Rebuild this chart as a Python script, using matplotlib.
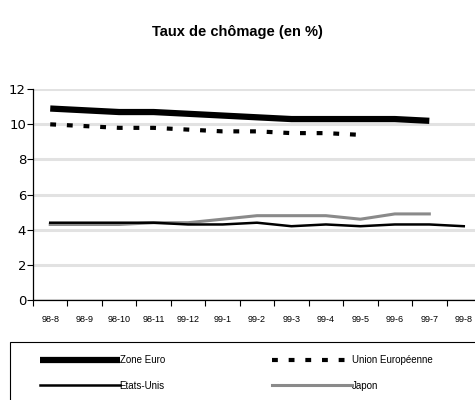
import matplotlib
matplotlib.use('Agg')
import matplotlib.pyplot as plt
from matplotlib.patches import Rectangle
import numpy as np

# Monthly unemployment rates (%)
months = ['98-8', '98-9', '98-10', '98-11', '99-12', '99-1', '99-2',
          '99-3', '99-4', '99-5', '99-6', '99-7', '99-8']
zone_euro = [10.9, 10.8, 10.7, 10.7, 10.6, 10.5, 10.4, 10.3, 10.3, 10.3, 10.3, 10.2]
union_eu = [10.0, 9.9, 9.8, 9.8, 9.7, 9.6, 9.6, 9.5, 9.5, 9.4]
etats_unis = [4.4, 4.4, 4.4, 4.4, 4.3, 4.3, 4.4, 4.2, 4.3, 4.2, 4.3, 4.3, 4.2]
japon = [4.3, 4.3, 4.3, 4.4, 4.4, 4.6, 4.8, 4.8, 4.8, 4.6, 4.9, 4.9]
y_ticks = [0, 2, 4, 6, 8, 10, 12]

narrow = ['Liberation Sans', 'DejaVu Sans']
W, H = 475, 400

fig = plt.figure(figsize=(4.75, 4.0), dpi=100)
ax = fig.add_axes([33/W, 0.25, 448/W, 0.527])

x = np.arange(len(months))
l_euro, = ax.plot(x[:len(zone_euro)], zone_euro, color='black', lw=4.5,
                  solid_capstyle='butt', zorder=4)
l_ue, = ax.plot(x[:len(union_eu)], union_eu, color='black', lw=3,
                linestyle=(0, (1.4, 2.6)), zorder=4)
l_us, = ax.plot(x[:len(etats_unis)], etats_unis, color='black', lw=1.8, zorder=4)
l_jp, = ax.plot(x[:len(japon)], japon, color='#8a8a8a', lw=2.2, zorder=3)

ax.set_xlim(-0.5, len(months) - 0.5)
ax.set_ylim(0, 12)
ax.set_yticks(y_ticks)
ax.yaxis.grid(True, color='#e2e2e2', lw=2.2)
ax.set_axisbelow(True)

ax.set_xticks(x)
ax.set_xticklabels(months, fontsize=6.5, family=narrow)
ax.set_xticks(np.arange(-0.5, len(months)), minor=True)
ax.tick_params(axis='x', which='major', length=0, pad=11)
ax.tick_params(axis='x', which='minor', length=4, width=0.8, direction='out')
ax.tick_params(axis='y', length=4, width=0.8, direction='out', labelsize=9.5, pad=1)

for side in ['top', 'right']:
    ax.spines[side].set_visible(False)
ax.spines['left'].set_linewidth(0.9)
ax.spines['bottom'].set_linewidth(0.9)

fig.text(0.5, 1 - 32/H, 'Taux de chômage (en %)', ha='center', va='center',
         fontsize=10.5, fontweight='bold', family=narrow)

# legend box, running off the right and bottom edges
fig.patches.append(Rectangle((10/W, -0.05), 1.0, 1 - 342/H + 0.05,
                             transform=fig.transFigure, fill=False,
                             edgecolor='black', lw=0.8))

leg_kw = dict(loc='upper left', handlelength=8.2, handletextpad=0.0,
              prop={'family': narrow, 'size': 7}, frameon=False,
              borderpad=0, borderaxespad=0, labelspacing=1.6)
fig.legend([l_euro, l_us], ['Zone Euro', 'Etats-Unis'],
           bbox_to_anchor=(40/W, 1 - 355/H), **leg_kw)
fig.legend([l_ue, l_jp], ['Union Européenne', 'Japon'],
           bbox_to_anchor=(272/W, 1 - 355/H), **leg_kw)

fig.savefig('out.png', dpi=100)
